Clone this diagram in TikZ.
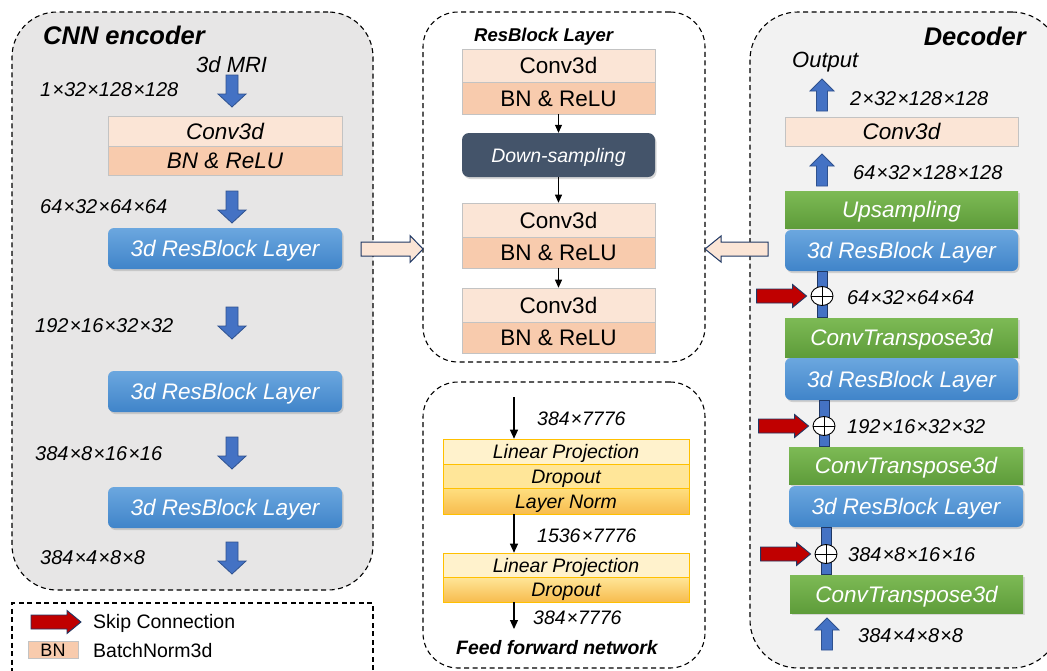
\documentclass[tikz,border=0pt]{standalone}
\usepackage{fontspec}
\setmainfont{Liberation Sans}
\usetikzlibrary{shapes.geometric,shadows,arrows.meta}
\definecolor{encgray}{HTML}{E7E6E6}
\definecolor{decgray}{HTML}{F2F2F2}
\definecolor{convl}{HTML}{FBE5D6}
\definecolor{bnc}{HTML}{F8CBAD}
\definecolor{boxgr}{HTML}{C3C3C3}
\definecolor{arrblue}{HTML}{4472C4}
\definecolor{arrblued}{HTML}{2F528F}
\definecolor{navy}{HTML}{203864}
\definecolor{resbt}{HTML}{6BA7DF}
\definecolor{resbb}{HTML}{4084C9}
\definecolor{grt}{HTML}{7DBA55}
\definecolor{grb}{HTML}{5E9C3A}
\definecolor{slate}{HTML}{44546A}
\definecolor{skipred}{HTML}{C00000}
\definecolor{ylwa}{HTML}{FFF2CC}
\definecolor{ylwb}{HTML}{FFE699}
\definecolor{ylwt}{HTML}{FFDF80}
\definecolor{ylwbot}{HTML}{F7BC4E}
\definecolor{ylwborder}{HTML}{FFC000}
\newcommand{\myfs}[1]{\fontsize{#1}{#1}\selectfont}
\tikzset{
  container/.style={draw=black, dash pattern=on 5pt off 3.5pt, line width=1.1pt, rounded corners=45pt, inner sep=0pt},
  boxtxt/.style={inner sep=0pt, text depth=0pt},
  convbox/.style={boxtxt, draw=boxgr, line width=0.6pt, fill=convl, font=\myfs{22.5}\itshape, text height=16.1pt},
  bnbox/.style={convbox, fill=bnc},
  convboxu/.style={convbox, font=\myfs{22.5}},
  bnboxu/.style={bnbox, font=\myfs{22.5}},
  resbox/.style={boxtxt, rounded corners=6pt, top color=resbt, bottom color=resbb, draw=none, text=white, font=\myfs{22.5}\itshape, text height=16.1pt, drop shadow={opacity=0.3, shadow xshift=1.5pt, shadow yshift=-2pt}},
  greenbox/.style={boxtxt, top color=grt, bottom color=grb, draw=none, text=white, font=\myfs{22.5}\itshape, text height=16.1pt, drop shadow={opacity=0.25, shadow xshift=1.5pt, shadow yshift=-1.5pt}},
  dsbox/.style={boxtxt, rounded corners=7pt, fill=slate, draw=none, text=white, font=\myfs{19.5}\itshape, text height=14pt, drop shadow={opacity=0.3, shadow xshift=1.5pt, shadow yshift=-2pt}},
  ffbox/.style={boxtxt, draw=ylwborder, line width=0.6pt, font=\myfs{19.5}\itshape, text height=14pt},
  dim/.style={inner sep=0pt, text height=14.3pt, text depth=0pt, anchor=west, font=\myfs{20}\itshape},
  ffdim/.style={dim, font=\myfs{19.5}\itshape, text height=14pt},
  legtxt/.style={inner sep=0pt, anchor=west, text height=14pt, text depth=0pt, font=\myfs{19.5}},
  titletxt/.style={inner sep=0pt, font=\myfs{25.5}\bfseries\itshape},
  bluearr/.style={fill=arrblue, draw=arrblued, line width=0.8pt, line join=miter},
  redarr/.style={fill=skipred, draw=navy, line width=0.9pt, line join=miter},
  hollowarr/.style={fill=convl, draw=navy, line width=1pt, line join=miter},
  bar/.style={fill=arrblue, draw=navy, line width=0.7pt},
  oplus/.style={ellipse, draw=black, fill=white, line width=0.9pt, minimum width=22pt, minimum height=19pt, inner sep=0pt},
  thinarr/.style={-{Triangle[length=8pt,width=7pt]}, line width=0.8pt},
  ffarr/.style={-{Triangle[length=9pt,width=8pt]}, line width=1.1pt},
  pics/bdown/.style={code={\draw[bluearr] (-6,0) -- (6,0) -- (6,19) -- (14,19) -- (0,32) -- (-14,19) -- (-6,19) -- cycle;}},
  pics/bup/.style={code={\draw[bluearr] (-5.5,0) -- (5.5,0) -- (5.5,-20) -- (12,-20) -- (0,-32) -- (-12,-20) -- (-5.5,-20) -- cycle;}},
  pics/skiparr/.style={code={\draw[redarr] (0,0) -- (-14,-11.5) -- (-14,-7) -- (-50,-7) -- (-50,7) -- (-14,7) -- (-14,11.5) -- cycle;}},
}
\begin{document}
\begin{tikzpicture}[x=1pt,y=-1pt]
\useasboundingbox (0,0) rectangle (1047,670);
\clip (0,0) rectangle (1047,670);
\fill[white] (0,0) rectangle (1047,670);

% ---------------- Encoder ----------------
\node[container, fill=encgray, minimum width=361pt, minimum height=578pt] (enc) at (192.5,301) {};
\node[titletxt, anchor=base west] (enctitle) at (43,44) {CNN encoder};
\node[inner sep=0pt, anchor=base west, font=\myfs{22}\itshape] (mri) at (196,72) {3d MRI};
\node[dim] (ed1) at (40,89.5) {1\kern1pt×32\kern1pt×128\kern1pt×128};
\pic at (232,75) {bdown};
\node[convbox, minimum width=234pt, minimum height=30pt] (ec1) at (225,131) {Conv3d};
\node[bnbox, minimum width=234pt, minimum height=29pt] (eb1) at (225,160.5) {BN \& ReLU};
\node[dim] (ed2) at (40,206) {64\kern1pt×32\kern1pt×64\kern1pt×64};
\pic at (232,191) {bdown};
\node[resbox, minimum width=234pt, minimum height=41pt] (er1) at (225,248.5) {3d ResBlock Layer};
\node[dim] (ed3) at (35,325) {192\kern1pt×16\kern1pt×32\kern1pt×32};
\pic at (232,307) {bdown};
\node[resbox, minimum width=234pt, minimum height=41pt] (er2) at (225,391.5) {3d ResBlock Layer};
\node[dim] (ed4) at (35,453) {384\kern1pt×8\kern1pt×16\kern1pt×16};
\pic at (232,437) {bdown};
\node[resbox, minimum width=234pt, minimum height=41pt] (er3) at (225,507.5) {3d ResBlock Layer};
\node[dim] (ed5) at (40,557) {384\kern1pt×4\kern1pt×8\kern1pt×8};
\pic at (232,542) {bdown};

% ---------------- Legend ----------------
\node[draw=black, dash pattern=on 5pt off 3.5pt, line width=1.1pt, minimum width=361pt, minimum height=80pt, inner sep=0pt] (leg) at (192.5,643) {};
\pic at (81,622) {skiparr};
\node[legtxt] (legskip) at (93,621) {Skip Connection};
\node[boxtxt, draw=boxgr, line width=0.6pt, fill=bnc, minimum width=50pt, minimum height=17pt, font=\myfs{18}, text height=13pt] (legbn) at (53,649.5) {BN};
\node[legtxt] (legbntxt) at (93,650) {BatchNorm3d};

% ---------------- ResBlock Layer ----------------
\node[container, rounded corners=35pt, minimum width=282pt, minimum height=350pt] (rbl) at (564,187) {};
\node[inner sep=0pt, anchor=base west, font=\myfs{18.5}\bfseries\itshape] (rbltitle) at (474,41) {ResBlock Layer};
\node[convboxu, minimum width=193pt, minimum height=33pt] (r1a) at (558.5,65.5) {Conv3d};
\node[bnboxu, minimum width=193pt, minimum height=32pt] (r1b) at (558.5,98) {BN \& ReLU};
\node[dsbox, minimum width=193pt, minimum height=44pt] (ds) at (558.5,155) {Down-sampling};
\node[convboxu, minimum width=193pt, minimum height=34pt] (r2a) at (558.5,220) {Conv3d};
\node[bnboxu, minimum width=193pt, minimum height=31pt] (r2b) at (558.5,252.5) {BN \& ReLU};
\node[convboxu, minimum width=193pt, minimum height=34pt] (r3a) at (558.5,305) {Conv3d};
\node[bnboxu, minimum width=193pt, minimum height=31pt] (r3b) at (558.5,337.5) {BN \& ReLU};
\draw[thinarr] (r1b.south) -- (ds.north);
\draw[thinarr] (ds.south) -- (r2a.north);
\draw[thinarr] (r2b.south) -- (r3a.north);

% ---------------- Feed forward ----------------
\node[container, rounded corners=35pt, minimum width=282pt, minimum height=286pt] (ffn) at (564,525) {};
\coordinate (fa0) at (514,397);
\node[ffbox, fill=ylwa, minimum width=246pt, minimum height=25pt] (f1a) at (566,451.5) {Linear Projection};
\node[ffbox, fill=ylwb, minimum width=246pt, minimum height=24pt] (f1b) at (566,476) {Dropout};
\node[ffbox, top color=ylwt, bottom color=ylwbot, minimum width=246pt, minimum height=26pt] (f1c) at (566,501) {Layer Norm};
\node[ffbox, fill=ylwa, minimum width=246pt, minimum height=24pt] (f2a) at (566,565) {Linear Projection};
\node[ffbox, top color=ylwb, bottom color=ylwbot, minimum width=246pt, minimum height=25pt] (f2b) at (566,589.5) {Dropout};
\coordinate (fa1) at (514,514);
\coordinate (fa2) at (514,602);
\coordinate (fa3) at (514,629);
\draw[ffarr] (fa0) -- (fa0 |- f1a.north);
\draw[ffarr] (fa1) -- (fa1 |- f2a.north);
\draw[ffarr] (fa2) -- (fa3);
\node[ffdim] (fd1) at (537,418) {384\kern1pt×7776};
\node[ffdim] (fd2) at (537,535) {1536\kern1pt×7776};
\node[ffdim] (fd3) at (533,617) {384\kern1pt×7776};
\node[inner sep=0pt, anchor=base west, font=\myfs{19.4}\bfseries\itshape] (fftitle) at (456,654) {Feed forward network};

% ---------------- Decoder ----------------
\node[container, rounded corners=48pt, fill=decgray, minimum width=310pt, minimum height=656pt] (dec) at (905,340) {};
\node[titletxt, anchor=base east] (dectitle) at (1026,45) {Decoder};
\node[inner sep=0pt, anchor=base west, font=\myfs{22}\itshape] (outp) at (792,67) {Output};
\pic at (822,111) {bup};
\node[dim] (dd0) at (850,98) {2\kern1pt×32\kern1pt×128\kern1pt×128};
\node[convbox, minimum width=233pt, minimum height=29pt] (dc) at (901.5,131.5) {Conv3d};
\pic at (822,186) {bup};
\node[dim] (dd1) at (853,172) {64\kern1pt×32\kern1pt×128\kern1pt×128};
\node[greenbox, minimum width=233pt, minimum height=37pt] (up) at (901.5,209.5) {Upsampling};
\node[resbox, minimum width=233pt, minimum height=41pt] (rb1) at (901.5,250.5) {3d ResBlock Layer};
\node[greenbox, minimum width=233pt, minimum height=39pt] (ct1) at (901.5,337.5) {ConvTranspose3d};
\node[resbox, minimum width=233pt, minimum height=42pt] (rb2) at (901.5,379) {3d ResBlock Layer};
\node[greenbox, minimum width=234pt, minimum height=37pt] (ct2) at (906,465.5) {ConvTranspose3d};
\node[resbox, minimum width=234pt, minimum height=41pt] (rb3) at (906,506.5) {3d ResBlock Layer};
\node[greenbox, minimum width=233pt, minimum height=38pt] (ct3) at (906.5,594) {ConvTranspose3d};
\pic at (827,650) {bup};
\node[dim] (dd5) at (858,635) {384\kern1pt×4\kern1pt×8\kern1pt×8};

% bars and sums
\coordinate (b1l) at (817,0); \coordinate (b1r) at (827,0);
\coordinate (b2l) at (819,0); \coordinate (b2r) at (829,0);
\coordinate (b3l) at (821,0); \coordinate (b3r) at (831,0);
\draw[bar] (b1l |- rb1.south) rectangle (b1r |- ct1.north);
\draw[bar] (b2l |- rb2.south) rectangle (b2r |- ct2.north);
\draw[bar] (b3l |- rb3.south) rectangle (b3r |- ct3.north);
\node[oplus] (p1) at (822,296) {};
\node[oplus] (p2) at (824,426) {};
\node[oplus] (p3) at (826,554) {};
\foreach \p in {p1,p2,p3} {\draw[line width=0.9pt] (\p.north) -- (\p.south) (\p.west) -- (\p.east);}
\pic at ([xshift=-4pt]p1.west) {skiparr};
\pic at ([xshift=-4pt]p2.west) {skiparr};
\pic at ([xshift=-4pt]p3.west) {skiparr};
\node[dim] (dd2) at (847,297) {64\kern1pt×32\kern1pt×64\kern1pt×64};
\node[dim] (dd3) at (847,426) {192\kern1pt×16\kern1pt×32\kern1pt×32};
\node[dim] (dd4) at (848,554) {384\kern1pt×8\kern1pt×16\kern1pt×16};

% hollow arrows (on top of the containers)
\draw[hollowarr] (361,242) -- (410,242) -- (410,235.5) -- (423,249) -- (410,262.5) -- (410,256) -- (361,256) -- cycle;
\draw[hollowarr] (768,242) -- (721,242) -- (721,236) -- (705,249) -- (721,262) -- (721,256) -- (768,256) -- cycle;
\end{tikzpicture}
\end{document}
